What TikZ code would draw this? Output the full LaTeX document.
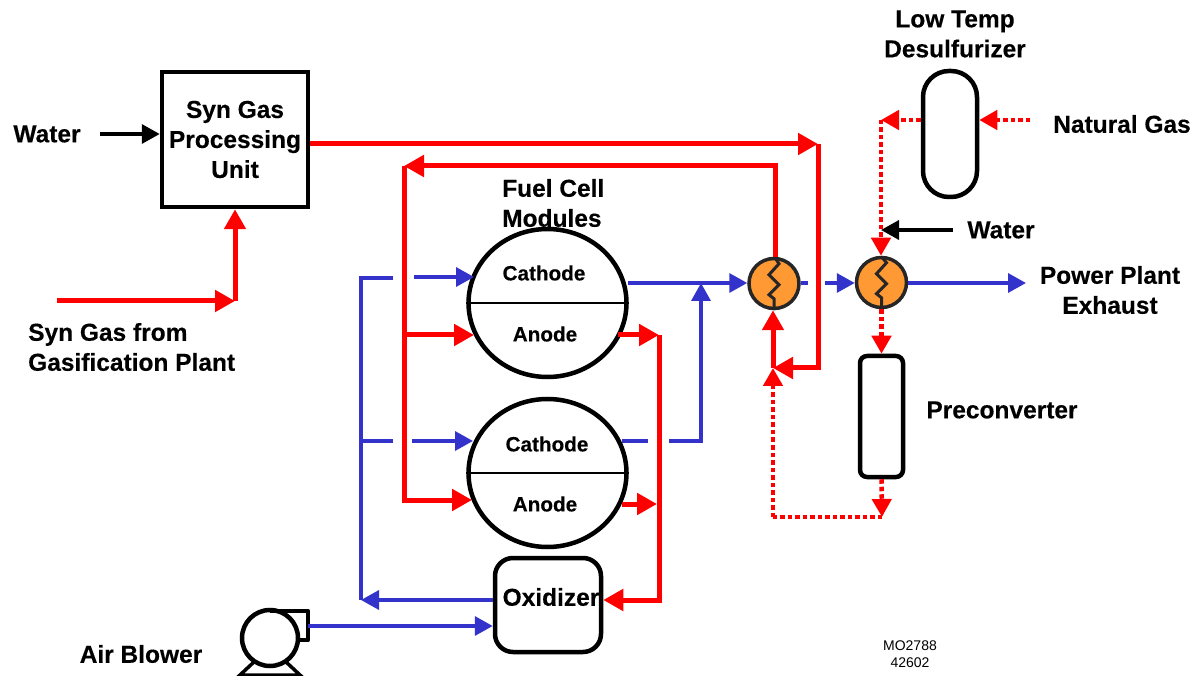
\documentclass[tikz,border=0pt]{standalone}
\usepackage{fontspec}
\setmainfont[BoldFeatures={FakeBold=0.3}]{Liberation Sans}
\usepackage{xcolor}
\usetikzlibrary{arrows.meta,positioning,shapes.geometric}
\definecolor{flowred}{RGB}{255,0,0}
\definecolor{flowblue}{RGB}{51,51,204}
\definecolor{hxorange}{RGB}{255,153,51}
\tikzset{
  label/.style={font=\bfseries\fontsize{24.5}{30}\selectfont,align=center,inner sep=0pt},
  side/.style={font=\bfseries\fontsize{20.7}{24}\selectfont,inner sep=0pt},
  unit/.style={draw=black,line width=4.5pt,outer sep=2.25pt,inner sep=0pt},
  red/.style={draw=flowred,line width=5pt,>={Triangle[length=20pt,width=21pt]}},
  reddot/.style={draw=flowred,line width=4.5pt,dash pattern=on 4.5pt off 3pt,>={Triangle[length=18pt,width=19pt]}},
  blue/.style={draw=flowblue,line width=3.5pt,>={Triangle[length=18pt,width=19pt]}},
  black/.style={draw=black,line width=3.5pt,>={Triangle[length=18pt,width=19pt]}},
  hx/.style={circle,draw=black!85,fill=hxorange,line width=3.5pt,minimum size=50pt,inner sep=0pt,outer sep=1.75pt},
  zig/.style={draw=black!85,line width=3pt}
}
\begin{document}
\begin{tikzpicture}[x=1pt,y=-1pt]
  \useasboundingbox (0,0) rectangle (1195,676);
  % units
  \node[unit,rectangle,minimum width=146pt,minimum height=135pt,label] (syn) at (235,139.5) {Syn Gas\\Processing\\Unit};
  \node[unit,ellipse,minimum width=158pt,minimum height=148pt] (fca) at (547.5,303) {};
  \node[unit,ellipse,minimum width=158pt,minimum height=148pt] (fcb) at (547.5,473) {};
  \draw[line width=1.2pt] (fca.west) -- (fca.east);
  \draw[line width=1.2pt] (fcb.west) -- (fcb.east);
  \node[unit,rectangle,rounded corners=18pt,minimum width=106pt,minimum height=94pt] (oxi) at (548,605) {};
  \node[unit,rectangle,rounded corners=26pt,minimum width=54pt,minimum height=126pt] (desulf) at (950,134) {};
  \node[unit,rectangle,rounded corners=7pt,minimum width=43pt,minimum height=121pt] (prec) at (881.5,416.5) {};
  \node[hx] (hxa) at (774,283.5) {};
  \node[hx] (hxb) at (881.5,282.5) {};
  \draw[zig] (hxa.north) ++(1,1) -- ++(4,6) -- ++(-10,11) -- ++(10,10) -- ++(-10,10) -- ++(5,4) -- (hxa.south);
  \draw[zig] (hxb.north) ++(0,1) -- ++(5,6) -- ++(-10,11) -- ++(10,10) -- ++(-10,10) -- ++(5,4) -- (hxb.south);
  % blower
  \node[unit,circle,minimum size=56pt] (blower) at (270,638) {};
  \draw[line width=4.5pt,line join=round] (270,611) -- (308,611) -- (308,640) -- (297,640);
  \draw[line width=3.5pt] (255,661) -- (240,675) -- (300,675) -- (285,661);
  % labels
  \node[label] (waterl) at (47,134) {Water};
  \node[label,align=left,anchor=west] (gasl) at (28,347) {Syn Gas from\\Gasification Plant};
  \node[label,align=left,anchor=west] (fcl) at (502,203) {Fuel Cell\\Modules};
  \node[side] (catha) at (544,273) {Cathode};
  \node[side] (anoa) at (545,334) {Anode};
  \node[side] (cathb) at (547,444) {Cathode};
  \node[side] (anob) at (545,504) {Anode};
  \node[label] (oxil) at (551,597) {Oxidizer};
  \node[label] (blowl) at (141,654) {Air Blower};
  \node[label] (lowl) at (955,34) {Low Temp\\Desulfurizer};
  \node[label] (natl) at (1122,124) {Natural Gas};
  \node[label] (water2l) at (1001,230) {Water};
  \node[label] (exhl) at (1110,290) {Power Plant\\Exhaust};
  \node[label] (precl) at (1002,410) {Preconverter};
  \node[align=center,inner sep=0pt,font=\fontsize{14}{17}\selectfont] (mol) at (910,654) {MO2788\\42602};
  % junctions
  \coordinate (gasstart) at (57,301);
  \coordinate (gascorner) at (235,301);
  \coordinate (waterstart) at (100,134);
  \coordinate (mainend) at (818,144);
  \coordinate (mainlow) at (818,368);
  \coordinate (mix) at (773,368);
  \coordinate (hxtop) at (775,166);
  \coordinate (redtop) at (404,166);
  \coordinate (redmid) at (404,335);
  \coordinate (redlow) at (404,500);
  \coordinate (blueleft) at (361,278);
  \coordinate (bluemid) at (361,441);
  \coordinate (bluelow) at (361,600);
  \coordinate (gapa) at (393,278);
  \coordinate (gapb) at (414,277);
  \coordinate (gapc) at (393,441);
  \coordinate (gapd) at (412,441);
  \coordinate (outa) at (618,335);
  \coordinate (outb) at (622,504);
  \coordinate (redright) at (659,335);
  \coordinate (redrightb) at (657,504);
  \coordinate (redrightc) at (659,600);
  \coordinate (catha1) at (628,283);
  \coordinate (cathb1) at (622,441);
  \coordinate (cathb2) at (648,441);
  \coordinate (cathb3) at (669,441);
  \coordinate (cathb4) at (701,441);
  \coordinate (cathb5) at (701,283);
  \coordinate (hxgapa) at (808,283);
  \coordinate (hxgapb) at (825,283);
  \coordinate (exhend) at (1026,283);
  \coordinate (dotlow) at (773,517);
  \coordinate (dotright) at (882,517);
  \coordinate (natstart) at (1030,120);
  \coordinate (dottop) at (881,120);
  \coordinate (water2s) at (953,230);
  \coordinate (water2e) at (881,230);
  % blue
  \draw[blue,->] (gapb) -- (474,277);
  \draw[blue] (gapa) -- (blueleft) -- (bluelow);
  \draw[blue,->] (oxi.west |- bluelow) -- (bluelow);
  \draw[blue] (bluemid) -- (gapc);
  \draw[blue,->] (gapd) -- (473,441);
  \draw[blue,->] (catha1) -- (hxa.west |- catha1);
  \draw[blue] (cathb1) -- (cathb2);
  \draw[blue,->] (cathb3) -- (cathb4) -- (cathb5);
  \draw[blue] (hxa.east |- hxgapa) -- (hxgapa);
  \draw[blue,->] (hxgapb) -- (hxb.west |- hxgapb);
  \draw[blue,->] (hxb.east |- exhend) -- (exhend);
  \draw[blue,->] (308,626) -- (oxi.west |- 0,626);
  % red
  \draw[red,->] (gasstart) -- (gascorner);
  \draw[red,->] (gascorner) -- (syn.south);
  \draw[red,->] (syn.east |- mainend) -- (mainend);
  \draw[red,->] (mainend) -- (mainlow) -- (mix);
  \draw[red,->] (hxa.north -| hxtop) -- (hxtop) -- (redtop);
  \draw[red,->] (redtop) -- (redlow) -- (472,500);
  \draw[red,->] (redmid) -- (474,335);
  \draw[red,->] (outa) -- (redright);
  \draw[red,->] (outb) -- (redrightb);
  \draw[red,->] (redright) -- (redrightc) -- (oxi.east |- redrightc);
  \draw[red,->] (mix) -- (hxa.south -| mix);
  % dotted red
  \draw[reddot,->] (natstart) -- (desulf.east |- natstart);
  \draw[reddot,->] (desulf.west |- dottop) -- (dottop);
  \draw[reddot,->] (dottop) -- (hxb.north -| dottop);
  \draw[reddot,->] (hxb.south) -- (prec.north);
  \draw[reddot,->] (prec.south) -- (dotright);
  \draw[reddot] (dotright) -- (dotlow);
  \draw[reddot,->] (dotlow) -- (mix);
  % black
  \draw[black,->] (waterstart) -- (syn.west |- waterstart);
  \draw[black,->] (water2s) -- (water2e);
\end{tikzpicture}
\end{document}
